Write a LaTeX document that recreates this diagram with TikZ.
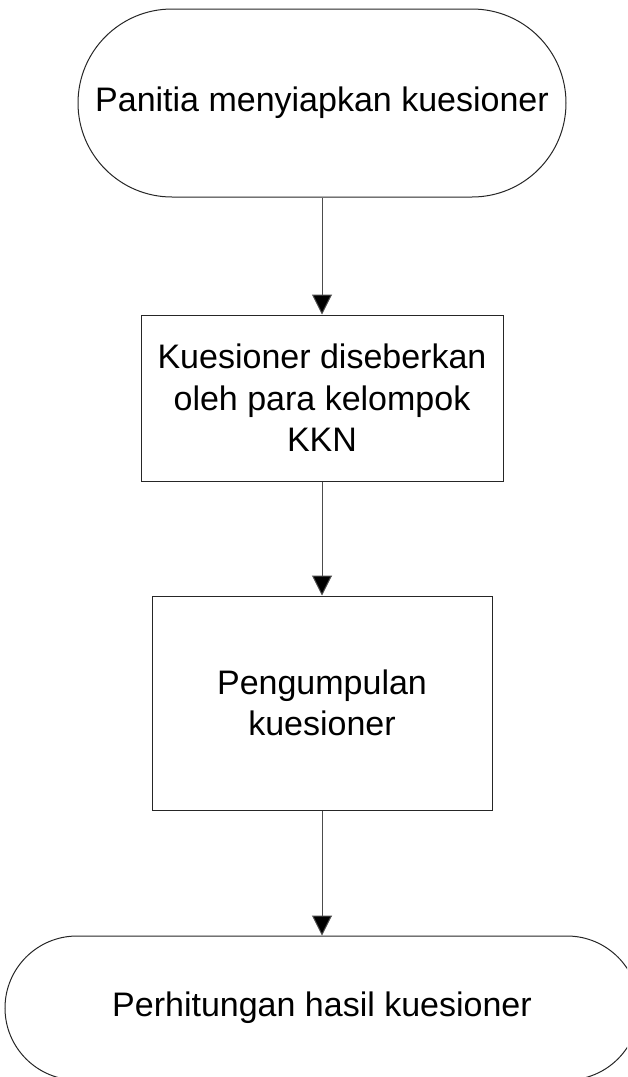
\documentclass[tikz,border=0pt]{standalone}
\usepackage{fontspec}
\setmainfont{Liberation Sans}
\usetikzlibrary{arrows.meta}

\begin{document}
\begin{tikzpicture}[x=1pt, y=-1pt,
    every node/.style={draw=black!85, line width=1pt, align=center, inner sep=2pt, font=\fontsize{34}{41.5}\selectfont},
    terminal/.style={rectangle, rounded corners=#1},
    process/.style={rectangle},
    flow/.style={draw=black!70, line width=1pt, -{Triangle[width=20pt, length=20pt, fill=black]}}]

  \useasboundingbox (0,0) rectangle (627,1077);
  \clip (0,0) rectangle (627,1077);

  \node[terminal=94pt, minimum width=488pt, minimum height=188pt] (start) at (322, 103) {Panitia menyiapkan kuesioner};

  \node[process, minimum width=362pt, minimum height=166pt] (spread) at (322, 398) {Kuesioner diseberkan\\oleh para kelompok\\KKN};

  \node[process, minimum width=340pt, minimum height=214pt] (collect) at (322, 703) {Pengumpulan\\kuesioner};

  % last step runs past the page edge
  \node[terminal=72pt, minimum width=634pt, minimum height=144pt] (count) at (322, 1008) {Perhitungan hasil kuesioner};

  \draw[flow] (start) -- (spread);
  \draw[flow] (spread) -- (collect);
  \draw[flow] (collect) -- (count);

\end{tikzpicture}
\end{document}
